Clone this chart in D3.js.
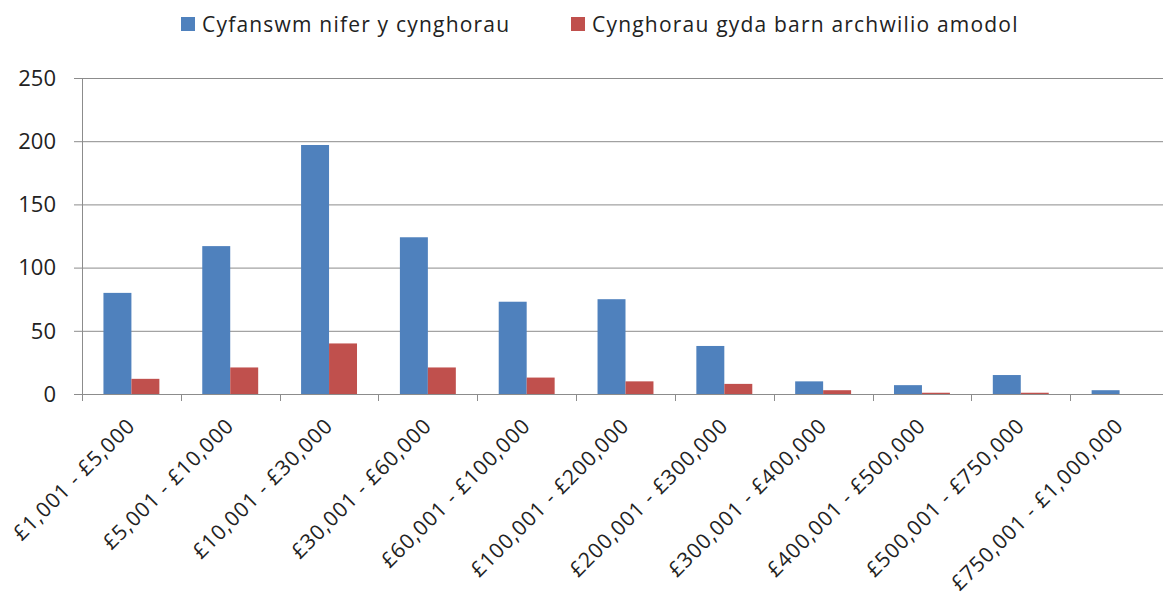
<!DOCTYPE html>
<html>
<head>
<meta charset="utf-8">
<script src="https://cdn.jsdelivr.net/npm/d3@7"></script>
<style>
  body { margin: 0; background: #fff; }
  svg { display: block; font-family: "Open Sans", Lato, sans-serif; }
</style>
</head>
<body>
<div id="chart"></div>
<script>
// bandiau incwm a nifer y cynghorau ym mhob un
const categories = ["£1,001 - £5,000", "£5,001 - £10,000", "£10,001 - £30,000", "£30,001 - £60,000",
  "£60,001 - £100,000", "£100,001 - £200,000", "£200,001 - £300,000", "£300,001 - £400,000",
  "£400,001 - £500,000", "£500,001 - £750,000", "£750,001 - £1,000,000"];
const seriesNames = ["Cyfanswm nifer y cynghorau", "Cynghorau gyda barn archwilio amodol"];
const totalCouncils = [80, 117, 197, 124, 73, 75, 38, 10, 7, 15, 3];
const qualifiedCouncils = [12, 21, 40, 21, 13, 10, 8, 3, 1, 1, 0];
const yTicks = [0, 50, 100, 150, 200, 250];
const colors = ["#4F81BD", "#C0504D"];

const W = 1163, H = 602;
const margin = { top: 78, right: -6, bottom: 208, left: 82 };
const iw = W - margin.left - margin.right, ih = H - margin.top - margin.bottom;

const svg = d3.select("#chart").append("svg").attr("width", W).attr("height", H);
const g = svg.append("g").attr("transform", `translate(${margin.left},${margin.top})`);

const x = d3.scaleBand().domain(categories).range([0, iw]);
const barW = x.bandwidth() * 0.283;
const y = d3.scaleLinear().domain([0, 250]).range([ih, 0]);

// gridlines + y ticks
g.append("g").selectAll("line").data(yTicks).join("line")
  .attr("x1", -8).attr("x2", iw)
  .attr("y1", (d) => y(d) + 0.5).attr("y2", (d) => y(d) + 0.5)
  .attr("stroke", "#8c8c8c").attr("stroke-width", 1);
g.append("g").selectAll("text").data(yTicks).join("text")
  .attr("x", -26).attr("y", (d) => y(d)).attr("dy", "0.35em")
  .attr("text-anchor", "end").attr("font-size", 22).attr("fill", "#222")
  .text((d) => d);

// y axis line
g.append("line").attr("x1", 0.5).attr("x2", 0.5).attr("y1", 0).attr("y2", ih + 7)
  .attr("stroke", "#8c8c8c");

// x ticks at category boundaries
g.append("g").selectAll("line").data(d3.range(categories.length + 1)).join("line")
  .attr("x1", (i) => Math.round(i * x.step()) + 0.5).attr("x2", (i) => Math.round(i * x.step()) + 0.5)
  .attr("y1", ih).attr("y2", ih + 7).attr("stroke", "#8c8c8c");

// bars
const series = [totalCouncils, qualifiedCouncils];
series.forEach((vals, s) => {
  g.append("g").selectAll("rect").data(categories).join("rect")
    .attr("x", (c) => x(c) + x.bandwidth() / 2 - barW + s * barW)
    .attr("width", barW)
    .attr("y", (c, i) => y(vals[i]))
    .attr("height", (c, i) => y(0) - y(vals[i]))
    .attr("fill", colors[s]);
});

// rotated category labels
g.append("g").selectAll("text").data(categories).join("text")
  .attr("transform", (c) => `translate(${x(c) + x.bandwidth() / 2 + 5},${ih + 33}) rotate(-45)`)
  .attr("text-anchor", "end").attr("font-size", 21).attr("letter-spacing", 0.9).attr("fill", "#222")
  .text((c) => c);

// legend
const legendX = [181, 571];
const lg = svg.append("g");
seriesNames.forEach((name, s) => {
  lg.append("rect").attr("x", legendX[s]).attr("y", 17).attr("width", 14).attr("height", 14)
    .attr("fill", colors[s]);
  lg.append("text").attr("x", legendX[s] + 21).attr("y", 31.5)
    .attr("font-size", 21).attr("letter-spacing", 1.2).attr("fill", "#222").text(name);
});
</script>
</body>
</html>
